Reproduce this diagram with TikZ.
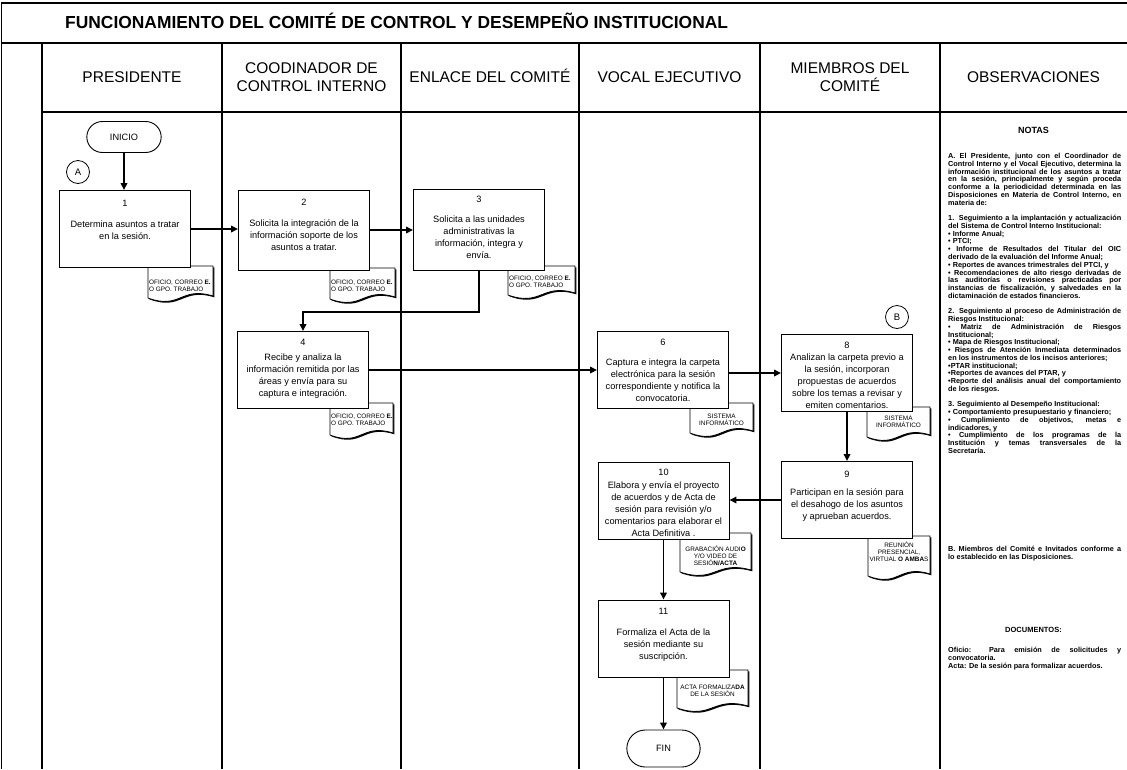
\documentclass[tikz,border=0pt]{standalone}
\usepackage{fontspec}
\setmainfont{Liberation Sans}
\usetikzlibrary{arrows.meta}
\usetikzlibrary{positioning}
\usetikzlibrary{shapes.misc}

\newcommand\fs[2]{\fontsize{#1}{#2}\selectfont}
% hoja de documento: x izq, x der, y arriba, y abajo
\newcommand\hoja[4]{%
  \fill ({#1+1.3},{#3+1.3}) -- ({#1+1.3},{#4+1.3}) .. controls ({(#1+#2)/2+1.3},{#4+13.3}) and ({(#1+#2)/2+1.3},{#4-10.7}) .. ({#2+1.3},{#4-0.7}) -- ({#2+1.3},{#3+1.3}) -- cycle;
  \draw[fill=white, line width=.8pt] (#1,#3) -- (#1,#4) .. controls ({(#1+#2)/2},{#4+12}) and ({(#1+#2)/2},{#4-12}) .. (#2,{#4-2}) -- (#2,#3) -- cycle;
}

\tikzset{
  marco/.style={line width=1.4pt},
  carril/.style={line width=1.2pt},
  paso/.style={draw, fill=white, line width=.9pt, minimum width=131pt, minimum height=77pt},
  txt/.style={align=center, inner sep=0pt, font=\fs{9.2}{12}},
  term/.style={draw, fill=white, line width=.9pt, rounded rectangle, minimum width=81pt, minimum height=31pt, font=\fs{9.2}{11}},
  conector/.style={draw, circle, line width=.8pt, minimum size=23pt, inner sep=0pt, font=\fs{9.5}{11}},
  flujo/.style={line width=1.6pt, -{Triangle[length=7pt,width=6.5pt]}},
  cab/.style={align=center, font=\fs{15.5}{18}},
  doctxt/.style={align=center, inner sep=0pt, font=\fs{6.4}{7.2}},
  nota/.style={text width=173pt, align=justify, inner sep=0pt, font=\bfseries\fs{7.3}{7.76}},
}

\begin{document}
\begin{tikzpicture}[x=1pt, y=-1pt]
  \useasboundingbox (0,0) rectangle (1127,769);
  % marco y carriles
  \draw[marco] (1.5,769) -- (1.5,3) -- (1127,3);
  \draw[marco] (1.5,43) -- (1127,43);
  \draw[carril] (42,112) -- (1127,112);
  \foreach \x in {42,222,401,579,760,940}
    \draw[carril] (\x,43) -- (\x,769);
  \node[anchor=base west, inner sep=0pt, font=\bfseries\fs{17.4}{20}] (titulo) at (65,28.2)
    {FUNCIONAMIENTO DEL COMITÉ DE CONTROL Y DESEMPEÑO INSTITUCIONAL};
  \node[cab, anchor=base] (c1) at (132,82.5) {PRESIDENTE};
  \node[cab] (c2) at (311.5,77) {COODINADOR DE\\CONTROL INTERNO};
  \node[cab, anchor=base] (c3) at (490,82.5) {ENLACE DEL COMITÉ};
  \node[cab, anchor=base] (c4) at (669.5,82.5) {VOCAL EJECUTIVO};
  \node[cab] (c5) at (850,77) {MIEMBROS DEL\\COMITÉ};
  \node[cab, anchor=base] (c6) at (1033.5,82.5) {OBSERVACIONES};

  % documentos
  \hoja{148}{213}{266}{298}
  \hoja{330}{395}{268}{299}
  \hoja{508}{575}{266}{295}
  \hoja{330}{393}{403}{435}
  \hoja{690}{753}{403}{433}
  \hoja{867}{930}{407}{437}
  \hoja{868}{930}{536}{576}
  \hoja{680}{751}{533}{572}
  \hoja{677}{748}{670}{708}
  \node[doctxt, align=left, anchor=west] (d1) at (149,285.5) {OFICIO, CORREO \textbf{E.}\\O GPO. TRABAJO};
  \node[doctxt, align=left, anchor=west] (d2) at (331,285.5) {OFICIO, CORREO \textbf{E.}\\O GPO. TRABAJO};
  \node[doctxt, align=left, anchor=west] (d3) at (509,281.5) {OFICIO, CORREO \textbf{E.}\\O GPO. TRABAJO};
  \node[doctxt, align=left, anchor=west] (d4) at (331,420) {OFICIO, CORREO \textbf{E.}\\O GPO. TRABAJO};
  \node[doctxt] (d6) at (721.5,419.5) {SISTEMA\\INFORMÁTICO};
  \node[doctxt] (d8) at (898.5,421.5) {SISTEMA\\INFORMÁTICO};
  \node[doctxt] (d9) at (899,552) {REUNIÓN\\PRESENCIAL,\\VIRTUAL \textbf{O AMBA}S};
  \node[doctxt] (d10) at (715.5,556) {GRABACIÓN AUDI\textbf{O}\\Y/O VIDEO DE\\SESIÓ\textbf{N/ACTA}};
  \node[doctxt] (d11) at (712.5,690.5) {ACTA FORMALIZA\textbf{DA}\\DE LA SESIÓN};

  % actividades
  \node[term] (inicio) at (124,137) {INICIO};
  \node[conector] (A) at (78,172) {A};
  \node[conector] (B) at (897,317) {B};
  \node[paso] (p1) at (125,229) {};
  \node[paso, minimum height=80pt] (p2) at (304,230) {};
  \node[paso, minimum height=81pt] (p3) at (479,229.5) {};
  \node[paso] (p4) at (303,370) {};
  \node[paso] (p6) at (663,370) {};
  \node[paso] (p8) at (847,373) {};
  \node[paso] (p9) at (847,500) {};
  \node[paso] (p10) at (663.5,500.5) {};
  \node[paso] (p11) at (663.5,638.5) {};
  \node[term, minimum height=37pt, minimum width=80pt] (fin) at (663.5,748.5) {FIN};

  \node[txt, below=9.7pt of p1.north] (t1) {1\\[9pt]Determina asuntos a tratar\\en la sesión.};
  \node[txt, below=9.7pt of p2.north] (t2) {2\\[9pt]Solicita la integración de la\\información soporte de los\\asuntos a tratar.};
  \node[txt, below=7.7pt of p3.north] (t3) {3\\[8pt]Solicita a las unidades\\administrativas la\\información, integra y\\envía.};
  \node[txt, below=8.2pt of p4.north] (t4) {4\\[3pt]Recibe y analiza la\\información remitida por las\\áreas y envía para su\\captura e integración.};
  \node[txt, below=8.2pt of p6.north] (t6) {6\\[8pt]Captura e integra la carpeta\\electrónica para la sesión\\correspondiente y notifica la\\convocatoria.};
  \node[txt, below=8.2pt of p8.north] (t8) {8\\Analizan la carpeta previo a\\la sesión, incorporan\\propuestas de acuerdos\\sobre los temas a revisar y\\emiten comentarios.};
  \node[txt, below=10.2pt of p9.north] (t9) {9\\[6pt]Participan en la sesión para\\el desahogo de los asuntos\\y aprueban acuerdos.};
  \node[txt, below=7.7pt of p10.north] (t10) {10\\[1pt]Elabora y envía el proyecto\\de acuerdos y de Acta de\\sesión para revisión y/o\\comentarios para elaborar el\\Acta Definitiva .};
  \node[txt, below=8.7pt of p11.north] (t11) {11\\[9pt]Formaliza el Acta de la\\sesión mediante su\\suscripción.};

  % conectores
  \coordinate (q34) at (303,312);
  \draw[flujo] (inicio.south) -- (inicio.south |- p1.north);
  \draw[flujo] (p1.east) -- (p1.east -| p2.west);
  \draw[flujo] (p2.east) -- (p2.east -| p3.west);
  \draw[flujo] (p3.south) |- (q34) -- (p4.north);
  \draw[flujo] (p4.east) -- (p4.east -| p6.west);
  \draw[flujo] (p6.east |- p8.west) -- (p8.west);
  \draw[flujo] (p8.south) -- (p9.north);
  \draw[flujo] (p9.west) -- (p9.west -| p10.east);
  \draw[flujo] (p10.south) -- (p11.north);
  \draw[flujo] (p11.south) -- (fin.north);

  % observaciones
  \node[font=\bfseries\fs{9}{10}] (notas) at (1033.5,130) {NOTAS};
  \node[nota, anchor=base west] (notaA) at (948,158.6) {%
A. El Presidente, junto con el Coordinador de\linebreak
Control Interno y el Vocal Ejecutivo, determina la\linebreak
información institucional de los asuntos a tratar\linebreak
en la sesión, principalmente y según proceda\linebreak
conforme a la periodicidad determinada en las\linebreak
Disposiciones en Materia de Control Interno, en\linebreak
materia de:\par\vspace{7.76pt}
1. Seguimiento a la implantación y actualización\linebreak
del Sistema de Control Interno Institucional:\par
• Informe Anual;\par
• PTCI;\par
• Informe de Resultados del Titular del OIC\linebreak
derivado de la evaluación del Informe Anual;\par
• Reportes de avances trimestrales del PTCI, y\par
• Recomendaciones de alto riesgo derivadas de\linebreak
las auditorías o revisiones practicadas por\linebreak
instancias de fiscalización, y salvedades en la\linebreak
dictaminación de estados financieros.\par\vspace{7.76pt}
2. Seguimiento al proceso de Administración de\linebreak
Riesgos Institucional:\par
• Matriz de Administración de Riesgos\linebreak
Institucional;\par
• Mapa de Riesgos Institucional;\par
• Riesgos de Atención Inmediata determinados\linebreak
en los instrumentos de los incisos anteriores;\par
•PTAR institucional;\par
•Reportes de avances del PTAR, y\par
•Reporte del análisis anual del comportamiento\linebreak
de los riesgos.\par\vspace{7.76pt}
3. Seguimiento al Desempeño Institucional:\par
• Comportamiento presupuestario y financiero;\par
• Cumplimiento de objetivos, metas e\linebreak
indicadores, y\par
• Cumplimiento de los programas de la\linebreak
Institución y temas transversales de la\linebreak
Secretaría.};
  \node[nota, anchor=base west] (notaB) at (948,551.6) {%
B. Miembros del Comité e Invitados conforme a\linebreak
lo establecido en las Disposiciones.};
  \node[font=\bfseries\fs{7.5}{9}] (documentos) at (1033.5,630) {DOCUMENTOS:};
  \node[nota, anchor=base west] (notaD) at (948,652.6) {%
Oficio: Para emisión de solicitudes y\linebreak
convocatoria.\par
Acta: De la sesión para formalizar acuerdos.};
\end{tikzpicture}
\end{document}
